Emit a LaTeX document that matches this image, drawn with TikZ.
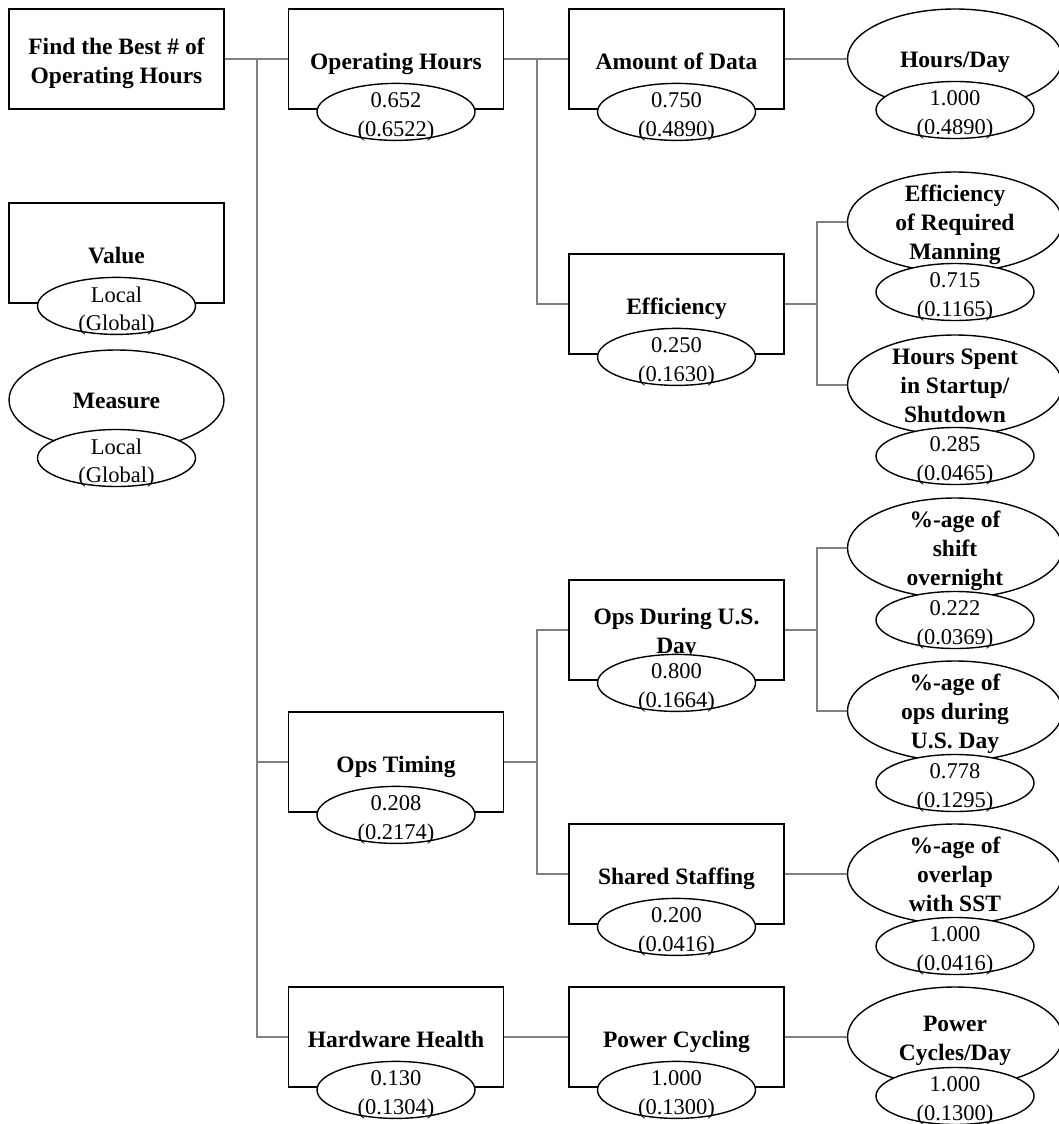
\documentclass[tikz,border=0pt]{standalone}
\usepackage{fontspec}
\setmainfont{Liberation Serif}
\usetikzlibrary{shapes.geometric}

\newcommand\lnst{\strut}
% value node: titled box with a local/global weight ellipse on its lower edge
\newcommand\valbox[7][-4.5pt]{% [title shift], name, x, y, title, local, global
  \node[vbox] (#2) at (#3,#4) {};
  \node[ttl] (#2-t) at ([yshift=#1]#2.center) {#5};
  \node[wt] (#2-w) at ([yshift=-2pt]#2.south) {};
  \node[numtxt] (#2-n) at ([yshift=-5pt]#2-w.center) {#6\\#7};
}
% measure node: titled ellipse with a local/global weight ellipse below it
\newcommand\measnode[7]{% name, x, y, title, weight y, local, global
  \node[bigell] (#1) at (#2,#3) {};
  \node[ttl] (#1-t) at ([yshift=-3pt]#1.center) {#4};
  \node[wt] (#1-w) at (#2,#5) {};
  \node[numtxt] (#1-n) at ([yshift=-5pt]#1-w.center) {#6\\#7};
}

\begin{document}
\begin{tikzpicture}[x=1pt,y=-1pt,
  every node/.style={font=\fontsize{22.5}{28.5}\selectfont},
  vbox/.style={draw=black, line width=1.8pt, minimum width=215pt, minimum height=100pt,
    inner sep=0pt},
  bigell/.style={ellipse, draw=black, line width=1.4pt, fill=white,
    minimum width=215pt, minimum height=100pt, inner sep=0pt},
  wt/.style={ellipse, draw=black, line width=1.4pt, fill=white,
    minimum width=158pt, minimum height=57pt, inner sep=0pt},
  ttl/.style={align=center, inner sep=0pt, font=\fontsize{23.5}{28.8}\selectfont\bfseries},
  numtxt/.style={align=center, inner sep=0pt},
  link/.style={draw=black!50, line width=1.3pt}]

\useasboundingbox[fill=white] (0,0) rectangle (1058,1124);

% column 1: goal and legend
\node[vbox] (root) at (116.5,59) {};
\node[ttl] (root-t) at ([yshift=-4.5pt]root.center) {\lnst Find the Best \# of\\\lnst Operating Hours};
\valbox{leg}{116.5}{253}{\lnst Value}{Local}{(Global)}
\measnode{legm}{116.5}{400}{\lnst Measure}{458}{Local}{(Global)}

% column 2
\valbox{oh}{396}{59}{\lnst Operating Hours}{0.652}{(0.6522)}
\valbox{ot}{396}{762}{\lnst Ops Timing}{0.208}{(0.2174)}
\valbox{hh}{396}{1037}{\lnst Hardware Health}{0.130}{(0.1304)}

% column 3
\valbox{ad}{676.5}{59}{\lnst Amount of Data}{0.750}{(0.4890)}
\valbox{ef}{676.5}{304}{\lnst Efficiency}{0.250}{(0.1630)}
\valbox[-3.5pt]{od}{676.5}{630}{\lnst Ops During U.S.\\\lnst Day}{0.800}{(0.1664)}
\valbox{ss}{676.5}{874}{\lnst Shared Staffing}{0.200}{(0.0416)}
\valbox{pc}{676.5}{1037}{\lnst Power Cycling}{1.000}{(0.1300)}

% column 4: measures
\measnode{hd}{955}{59}{\lnst Hours/Day}{110}{1.000}{(0.4890)}
\measnode{erm}{955}{222}{\lnst Efficiency\\\lnst of Required\\\lnst Manning}{292}{0.715}{(0.1165)}
\measnode{hs}{955}{385}{\lnst Hours Spent\\\lnst in Startup/\\\lnst Shutdown}{456}{0.285}{(0.0465)}
\measnode{so}{955}{548}{\lnst \%-age of\\\lnst shift\\\lnst overnight}{620}{0.222}{(0.0369)}
\measnode{ou}{955}{711}{\lnst \%-age of\\\lnst ops during\\\lnst U.S. Day}{783}{0.778}{(0.1295)}
\measnode{os}{955}{874}{\lnst \%-age of\\\lnst overlap\\\lnst with SST}{946}{1.000}{(0.0416)}
\measnode{pcd}{955}{1037}{\lnst Power\\\lnst Cycles/Day}{1096}{1.000}{(0.1300)}

% junctions
\coordinate (j1) at (257,59);
\coordinate (j2) at (537,59);
\coordinate (j3) at (817,304);
\coordinate (j4) at (537,762);
\coordinate (j5) at (817,630);

% connectors
\path[link] (root.east) -- (oh.west);
\path[link] (j1) |- (ot.west);
\path[link] (j1) |- (hh.west);
\path[link] (oh.east) -- (ad.west);
\path[link] (j2) |- (ef.west);
\path[link] (ad.east) -- (hd.west);
\path[link] (ef.east) -- (j3);
\path[link] (j3) |- (erm.west);
\path[link] (j3) |- (hs.west);
\path[link] (ot.east) -- (j4);
\path[link] (j4) |- (od.west);
\path[link] (j4) |- (ss.west);
\path[link] (od.east) -- (j5);
\path[link] (j5) |- (so.west);
\path[link] (j5) |- (ou.west);
\path[link] (ss.east) -- (os.west);
\path[link] (hh.east) -- (pc.west);
\path[link] (pc.east) -- (pcd.west);
\end{tikzpicture}
\end{document}
